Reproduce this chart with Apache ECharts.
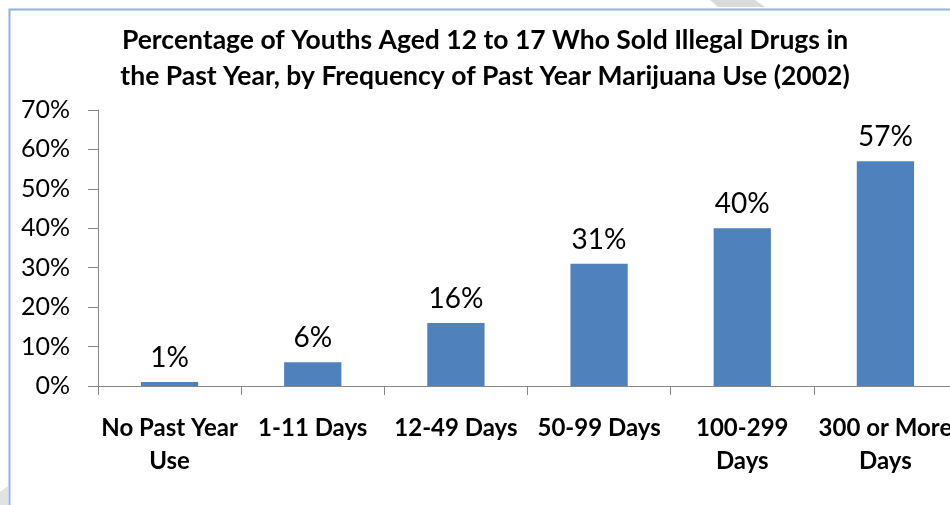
<!DOCTYPE html>
<html>
<head>
<meta charset="utf-8">
<script src="https://cdn.jsdelivr.net/npm/echarts@6/dist/echarts.min.js"></script>
<style>
  html, body { margin: 0; padding: 0; background: #ffffff; }
  #chart { width: 950px; height: 505px; }
</style>
</head>
<body>
<div id="chart"></div>
<script>
// Frequency of past-year marijuana use (x categories)
const categories = ['No Past Year\nUse', '1-11 Days', '12-49 Days', '50-99 Days', '100-299\nDays', '300 or More\nDays'];
// Percent of youths aged 12-17 who sold illegal drugs in the past year
const soldPercent = [1, 6, 16, 31, 40, 57];
// Value axis range
const yMin = 0;
const yMax = 70;
const yStep = 10;

const titleText = 'Percentage of Youths Aged 12 to 17 Who Sold Illegal Drugs in\nthe Past Year, by Frequency of Past Year Marijuana Use (2002)';

const chart = echarts.init(document.getElementById('chart'), null, { renderer: 'canvas' });
const font = 'Lato, "Open Sans", sans-serif';

chart.setOption({
  backgroundColor: '#ffffff',
  animation: false,
  title: {
    text: titleText,
    left: 485,
    top: 22,
    padding: 0,
    textAlign: 'center',
    textStyle: {
      fontFamily: font,
      fontWeight: 'bold',
      fontSize: 26.5,
      lineHeight: 36,
      color: '#000000'
    }
  },
  graphic: [
    // chart frame
    {
      type: 'rect',
      shape: { x: 9.5, y: 9.5, width: 980, height: 520 },
      style: { fill: 'none', stroke: '#8db3e2', lineWidth: 2 },
      silent: true,
      z: 0
    },
    // light page decorations at the edges
    {
      type: 'polygon',
      shape: { points: [[710, 0], [755, 0], [765, 7], [718, 7]] },
      style: { fill: '#dadada' },
      silent: true
    },
    {
      type: 'polygon',
      shape: { points: [[0, 492], [8, 486], [8, 505], [0, 505]] },
      style: { fill: '#e2e2e2' },
      silent: true
    }
  ],
  grid: {
    left: 98,
    top: 110,
    width: 859,
    height: 276,
    containLabel: false,
    outerBoundsMode: 'none'
  },
  xAxis: {
    type: 'category',
    data: categories,
    axisLine: { show: true, lineStyle: { color: '#868686', width: 1 } },
    axisTick: { show: true, length: 9, alignWithLabel: false, lineStyle: { color: '#868686' } },
    axisLabel: {
      interval: 0,
      margin: 26,
      fontFamily: font,
      fontWeight: 'bold',
      fontSize: 24,
      lineHeight: 33,
      color: '#000000'
    }
  },
  yAxis: {
    type: 'value',
    min: yMin,
    max: yMax,
    interval: yStep,
    axisLine: { show: true, lineStyle: { color: '#868686', width: 1 } },
    axisTick: { show: true, length: 10, lineStyle: { color: '#868686' } },
    splitLine: { show: false },
    axisLabel: {
      margin: 28,
      formatter: '{value}%',
      fontFamily: font,
      fontSize: 25,
      color: '#000000'
    }
  },
  series: [{
    type: 'bar',
    data: soldPercent,
    barWidth: '40%',
    itemStyle: { color: '#4f81bd' },
    label: {
      show: true,
      position: 'top',
      distance: 10,
      formatter: '{c}%',
      fontFamily: font,
      fontSize: 28,
      lineHeight: 28,
      color: '#000000'
    }
  }]
});
</script>
</body>
</html>
